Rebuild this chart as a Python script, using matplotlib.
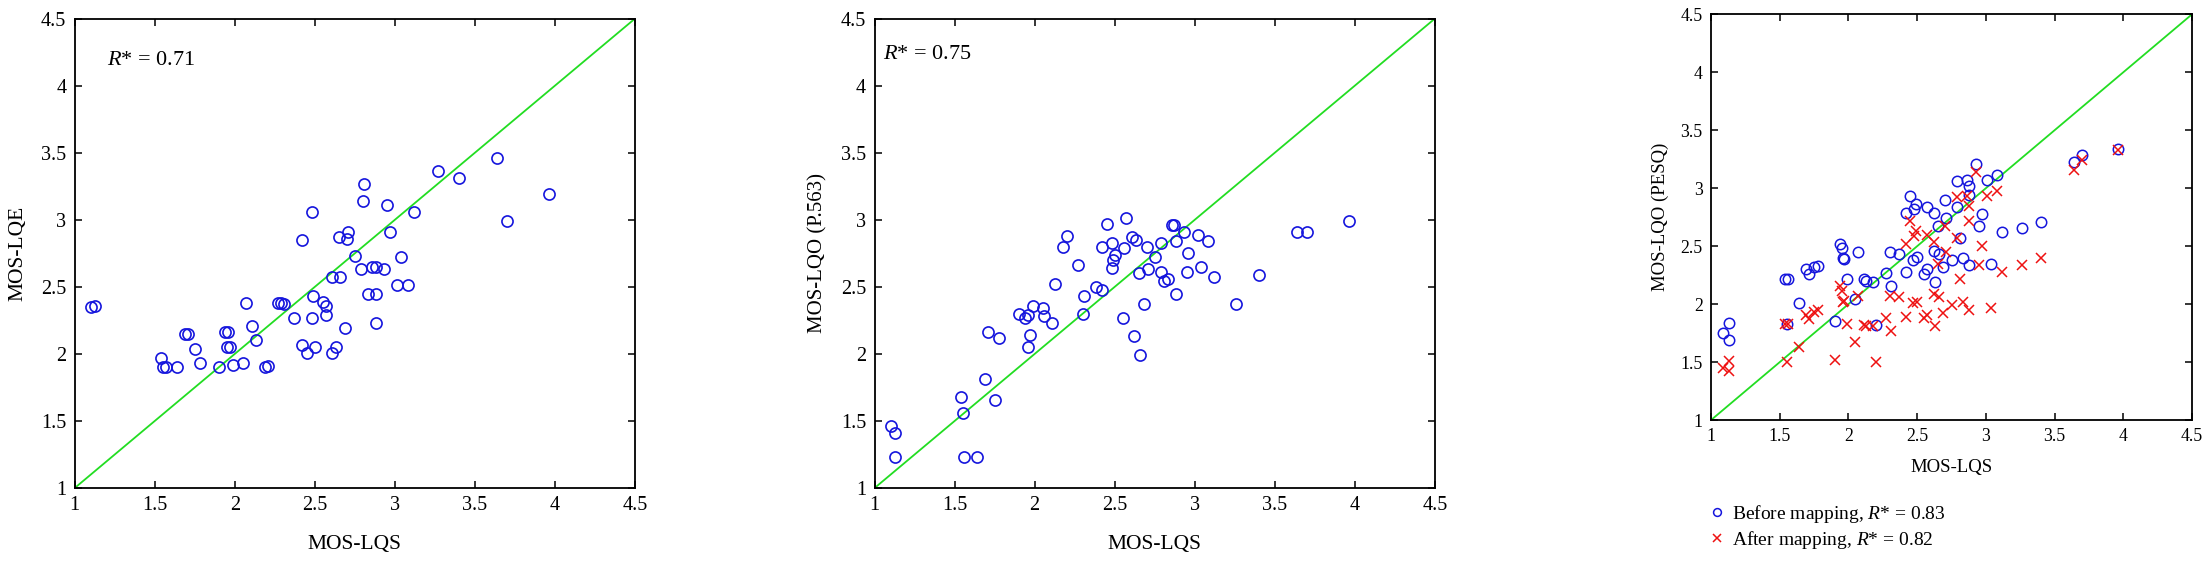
import numpy as np
import matplotlib
matplotlib.use("Agg")
from matplotlib import pyplot as plt

plt.rcParams["font.family"] = ["Liberation Serif", "DejaVu Serif"]
plt.rcParams["mathtext.fontset"] = "custom"
plt.rcParams["mathtext.rm"] = "Liberation Serif"
plt.rcParams["mathtext.it"] = "Liberation Serif:italic"

# -----------------------
# Data
# -----------------------
ticks = [1, 1.5, 2, 2.5, 3, 3.5, 4, 4.5]
tick_labels = ["1", "1.5", "2", "2.5", "3", "3.5", "4", "4.5"]

lqs_a = [1.10, 1.13, 1.54, 1.55, 1.57, 1.64, 1.69, 1.71, 1.75, 1.78, 1.90, 1.94, 1.96,
         1.95, 1.97, 1.99, 2.05, 2.07, 2.11, 2.13, 2.19, 2.21, 2.27, 2.29, 2.31, 2.37,
         2.42, 2.42, 2.45, 2.48, 2.48, 2.49, 2.50, 2.55, 2.57, 2.57, 2.61, 2.63, 2.61,
         2.66, 2.65, 2.69, 2.70, 2.71, 2.75, 2.79, 2.80, 2.81, 2.83, 2.86, 2.88, 2.88,
         2.88, 2.93, 2.95, 2.97, 3.01, 3.08, 3.04, 3.12, 3.27, 3.40, 3.64, 3.70, 3.96]
lqe = [2.35, 2.36, 1.97, 1.90, 1.90, 1.90, 2.15, 2.15, 2.04, 1.93, 1.90, 2.16, 2.16,
       2.05, 2.05, 1.92, 1.93, 2.38, 2.21, 2.10, 1.90, 1.91, 2.38, 2.38, 2.37, 2.27,
       2.85, 2.07, 2.01, 3.06, 2.27, 2.43, 2.05, 2.39, 2.36, 2.29, 2.01, 2.05, 2.57,
       2.57, 2.87, 2.19, 2.86, 2.91, 2.73, 2.63, 3.14, 3.27, 2.45, 2.65, 2.65, 2.45,
       2.23, 2.63, 3.11, 2.91, 2.51, 2.51, 2.72, 3.06, 3.36, 3.31, 3.46, 2.99, 3.19]

lqs_b = [1.10, 1.13, 1.13, 1.54, 1.55, 1.56, 1.64, 1.69, 1.71, 1.75, 1.78, 1.90, 1.94,
         1.96, 1.96, 1.97, 1.99, 2.05, 2.06, 2.11, 2.13, 2.18, 2.20, 2.27, 2.30, 2.31,
         2.38, 2.42, 2.42, 2.45, 2.48, 2.48, 2.49, 2.50, 2.55, 2.56, 2.57, 2.61, 2.62,
         2.63, 2.65, 2.66, 2.68, 2.70, 2.71, 2.75, 2.79, 2.79, 2.81, 2.83, 2.86, 2.87,
         2.88, 2.88, 2.93, 2.95, 2.96, 3.02, 3.04, 3.08, 3.12, 3.26, 3.40, 3.64, 3.70, 3.96]
p563 = [1.46, 1.41, 1.23, 1.68, 1.56, 1.23, 1.23, 1.81, 2.16, 1.66, 2.12, 2.30, 2.27,
        2.29, 2.05, 2.14, 2.36, 2.34, 2.28, 2.23, 2.52, 2.80, 2.88, 2.66, 2.30, 2.43,
        2.50, 2.80, 2.48, 2.97, 2.83, 2.64, 2.70, 2.74, 2.27, 2.79, 3.01, 2.87, 2.13,
        2.85, 2.60, 1.99, 2.37, 2.80, 2.63, 2.72, 2.83, 2.61, 2.54, 2.56, 2.96, 2.96,
        2.84, 2.45, 2.91, 2.61, 2.75, 2.89, 2.65, 2.84, 2.57, 2.37, 2.59, 2.91, 2.91, 2.99]

lqs_c = [1.09, 1.13, 1.13, 1.54, 1.56, 1.55, 1.64, 1.69, 1.71, 1.75, 1.78, 1.90, 1.94,
         1.95, 1.96, 1.97, 1.99, 2.05, 2.07, 2.11, 2.13, 2.18, 2.20, 2.27, 2.30, 2.31,
         2.37, 2.42, 2.42, 2.45, 2.47, 2.48, 2.49, 2.50, 2.55, 2.57, 2.57, 2.62, 2.62,
         2.63, 2.65, 2.66, 2.69, 2.70, 2.71, 2.75, 2.79, 2.79, 2.81, 2.83, 2.86, 2.88,
         2.88, 2.88, 2.93, 2.95, 2.97, 3.01, 3.04, 3.08, 3.12, 3.26, 3.40, 3.64, 3.70, 3.96]
pesq_before = [1.75, 1.84, 1.69, 2.22, 2.22, 1.83, 2.01, 2.30, 2.26, 2.32, 2.33, 1.85, 2.52,
               2.48, 2.40, 2.39, 2.22, 2.04, 2.45, 2.22, 2.20, 2.19, 1.82, 2.27, 2.45, 2.16,
               2.43, 2.79, 2.28, 2.93, 2.38, 2.82, 2.86, 2.41, 2.26, 2.30, 2.84, 2.79, 2.46,
               2.19, 2.67, 2.43, 2.32, 2.90, 2.74, 2.38, 3.06, 2.84, 2.57, 2.40, 3.07, 3.02,
               2.94, 2.34, 3.21, 2.67, 2.78, 3.07, 2.35, 3.11, 2.62, 2.66, 2.71, 3.23, 3.29, 3.34]
pesq_after = [1.45, 1.51, 1.42, 1.83, 1.83, 1.50, 1.63, 1.91, 1.87, 1.93, 1.95, 1.52, 2.16,
              2.11, 2.02, 2.03, 1.83, 1.67, 2.07, 1.82, 1.81, 1.81, 1.50, 1.88, 2.07, 1.77,
              2.06, 2.52, 1.89, 2.72, 2.01, 2.59, 2.63, 2.02, 1.88, 1.91, 2.60, 2.54, 2.09,
              1.81, 2.35, 2.06, 1.92, 2.67, 2.45, 1.99, 2.92, 2.57, 2.22, 2.02, 2.93, 2.85,
              2.72, 1.95, 3.14, 2.34, 2.50, 2.93, 1.97, 2.98, 2.28, 2.34, 2.40, 3.16, 3.24, 3.33]

r_lqe = "0.71"
r_p563 = "0.75"
r_before = "0.83"
r_after = "0.82"

BLUE = "#1515dd"
RED = "#ee1111"
GREEN = "#22dd22"


def style_axes(ax, fontsize):
    ax.set_xlim(1, 4.5)
    ax.set_ylim(1, 4.5)
    ax.set_xticks(ticks)
    ax.set_xticklabels(tick_labels)
    ax.set_yticks(ticks)
    ax.set_yticklabels(tick_labels)
    ax.tick_params(direction="in", top=True, right=True, length=5, width=1.1,
                   labelsize=fontsize, pad=6)
    for sp in ax.spines.values():
        sp.set_linewidth(1.3)
    # identity line
    ax.plot([1, 4.5], [1, 4.5], color=GREEN, linewidth=1.3, zorder=1)


fig = plt.figure(figsize=(22.09, 5.61), dpi=100)

# Panel 1: MOS-LQE
ax1 = fig.add_axes([0.0338, 0.130, 0.2537, 0.837])
style_axes(ax1, 14.5)
ax1.plot(lqs_a, lqe, "o", mfc="none", mec=BLUE, ms=8, mew=1.2, zorder=2)
ax1.text(1.2, 4.19, r"$R$* = " + r_lqe, fontsize=16, va="center")
ax1.set_xlabel("MOS-LQS", fontsize=15.5, labelpad=14)
ax1.set_ylabel("MOS-LQE", fontsize=15.5, labelpad=10)

# Panel 2: MOS-LQO (P.563)
ax2 = fig.add_axes([0.3959, 0.130, 0.2537, 0.837])
style_axes(ax2, 14.5)
ax2.plot(lqs_b, p563, "o", mfc="none", mec=BLUE, ms=8, mew=1.2, zorder=2)
ax2.text(1.05, 4.23, r"$R$* = " + r_p563, fontsize=16, va="center")
ax2.set_xlabel("MOS-LQS", fontsize=15.5, labelpad=14)
ax2.set_ylabel("MOS-LQO (P.563)", fontsize=15, labelpad=10)

# Panel 3: MOS-LQO (PESQ), before/after mapping
ax3 = fig.add_axes([0.7746, 0.2513, 0.2177, 0.7232])
style_axes(ax3, 12.8)
ax3.plot(lqs_c, pesq_before, "o", mfc="none", mec=BLUE, ms=7.5, mew=1.1, zorder=2,
         label=r"Before mapping, $R$* = " + r_before)
ax3.plot(lqs_c, pesq_after, "x", color=RED, ms=7, mew=1.1, zorder=3,
         label=r"After mapping, $R$* = " + r_after)
ax3.set_xlabel("MOS-LQS", fontsize=13.5, labelpad=10)
ax3.set_ylabel("MOS-LQO (PESQ)", fontsize=13.5, labelpad=8)
ax3.legend(loc="upper left", bbox_to_anchor=(0.0, -0.205), frameon=False,
           fontsize=14, markerscale=0.75, handlelength=0.6, handletextpad=0.5,
           labelspacing=0.2, borderaxespad=0, borderpad=0)

fig.savefig("out.png", dpi=100)
